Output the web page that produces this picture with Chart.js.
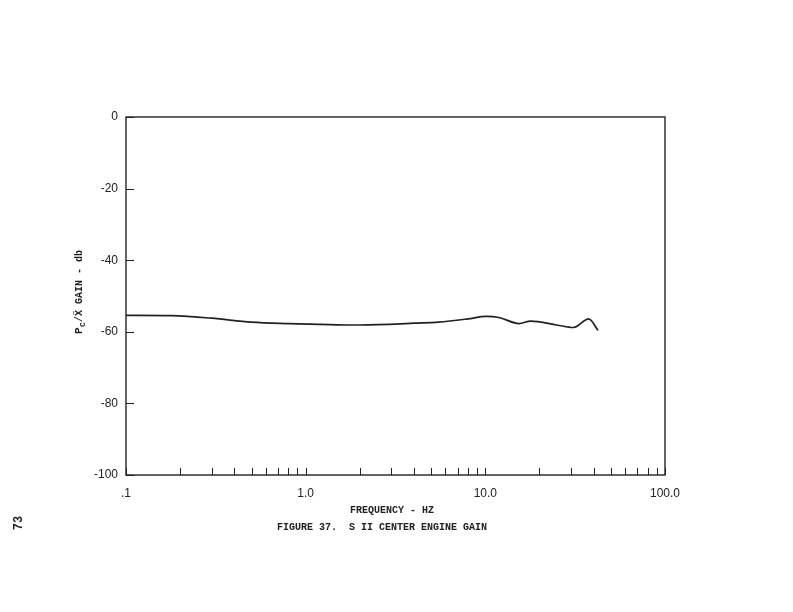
<!DOCTYPE html>
<html>
<head>
<meta charset="utf-8">
<script src="https://cdn.jsdelivr.net/npm/chart.js@4.4.0/dist/chart.umd.min.js"></script>
<style>
  html, body { margin: 0; padding: 0; background: #fff; }
  #wrap { width: 793px; height: 612px; position: relative; }
</style>
</head>
<body>
<div id="wrap"><canvas id="gainChart"></canvas></div>
<script>
// Data
const freqHz = [0.1, 0.18, 0.3, 0.5, 0.8, 1.2, 1.8, 2.9, 4.0, 5.5, 8.0, 10.1, 11.9, 15.4, 17.9, 25, 31, 37.6, 42.4];
const gainDb = [-55.4, -55.5, -56.2, -57.3, -57.7, -57.9, -58.1, -57.9, -57.6, -57.3, -56.4, -55.7, -56.0, -57.7, -57.0, -58.1, -58.8, -56.4, -59.6];

// Axis ticks
const xTickValues = [0.1, 0.2, 0.3, 0.4, 0.5, 0.6, 0.7, 0.8, 0.9,
                     1, 2, 3, 4, 5, 6, 7, 8, 9,
                     10, 20, 30, 40, 50, 60, 70, 80, 90, 100];
const xTickLabels = { 0.1: '.1', 1: '1.0', 10: '10.0', 100: '100.0' };
const yTickValues = [0, -20, -40, -60, -80, -100];

const INK = '#222';
const labelFont = { family: 'Liberation Sans', size: 12 };

// Box, inward ticks and the typed captions
const framePlugin = {
  id: 'frame',
  afterDraw(chart) {
    const ctx = chart.ctx;
    const { left, right, top, bottom } = chart.chartArea;
    const xs = chart.scales.x;
    const ys = chart.scales.y;
    ctx.save();
    ctx.strokeStyle = INK;
    ctx.lineWidth = 1.4;
    ctx.strokeRect(left, top, right - left, bottom - top);

    ctx.lineWidth = 1;
    ctx.beginPath();
    xTickValues.forEach(v => {
      const px = Math.round(xs.getPixelForValue(v)) + 0.5;
      ctx.moveTo(px, bottom);
      ctx.lineTo(px, bottom - 7);
    });
    yTickValues.forEach(v => {
      const py = Math.round(ys.getPixelForValue(v)) + 0.5;
      ctx.moveTo(left, py);
      ctx.lineTo(left + 8, py);
    });
    ctx.stroke();

    ctx.fillStyle = INK;
    ctx.textAlign = 'center';
    ctx.textBaseline = 'middle';
    ctx.font = 'bold 10px "Liberation Mono"';
    ctx.fillText('FREQUENCY - HZ', 392, 510);
    ctx.fillText('FIGURE 37.  S II CENTER ENGINE GAIN', 382, 527);

    // y axis title, rotated
    ctx.save();
    ctx.translate(79, 292);
    ctx.rotate(-Math.PI / 2);
    ctx.textAlign = 'left';
    ctx.font = 'bold 11px "Liberation Mono"';
    const startX = -42;
    ctx.fillText('P', startX, 0);
    ctx.font = 'bold 8px "Liberation Mono"';
    ctx.fillText('C', startX + 7, 4);
    ctx.font = 'bold 10px "Liberation Mono"';
    ctx.fillText('/\u1E8C GAIN - db', startX + 12, 0);
    ctx.restore();

    // page number
    ctx.save();
    ctx.translate(19, 523);
    ctx.rotate(-Math.PI / 2);
    ctx.font = 'bold 12px "Liberation Mono"';
    ctx.fillText('73', 0, 0);
    ctx.restore();

    ctx.restore();
  }
};

const chart = new Chart(document.getElementById('gainChart'), {
  type: 'line',
  data: {
    datasets: [{
      data: freqHz.map((f, i) => ({ x: f, y: gainDb[i] })),
      borderColor: INK,
      borderWidth: 1.7,
      pointRadius: 0,
      fill: false,
      cubicInterpolationMode: 'monotone'
    }]
  },
  options: {
    responsive: true,
    maintainAspectRatio: false,
    animation: false,
    layout: { padding: { left: 0, right: 128, top: 117, bottom: 0 } },
    plugins: {
      legend: { display: false },
      tooltip: { enabled: false }
    },
    scales: {
      x: {
        type: 'logarithmic',
        min: 0.1,
        max: 100,
        afterBuildTicks: (scale) => {
          scale.ticks = xTickValues.map(v => ({ value: v }));
        },
        afterFit: (scale) => { scale.height = 137; },
        grid: { display: false, drawTicks: false },
        border: { display: false },
        ticks: {
          autoSkip: false,
          maxRotation: 0,
          padding: 11,
          color: INK,
          font: labelFont,
          callback: (value) => xTickLabels[value] || ''
        }
      },
      y: {
        min: -100,
        max: 0,
        afterBuildTicks: (scale) => {
          scale.ticks = yTickValues.map(v => ({ value: v }));
        },
        afterFit: (scale) => { scale.width = 126; },
        grid: { display: false, drawTicks: false },
        border: { display: false },
        ticks: {
          padding: 8,
          color: INK,
          font: labelFont
        }
      }
    }
  },
  plugins: [framePlugin]
});
</script>
</body>
</html>
